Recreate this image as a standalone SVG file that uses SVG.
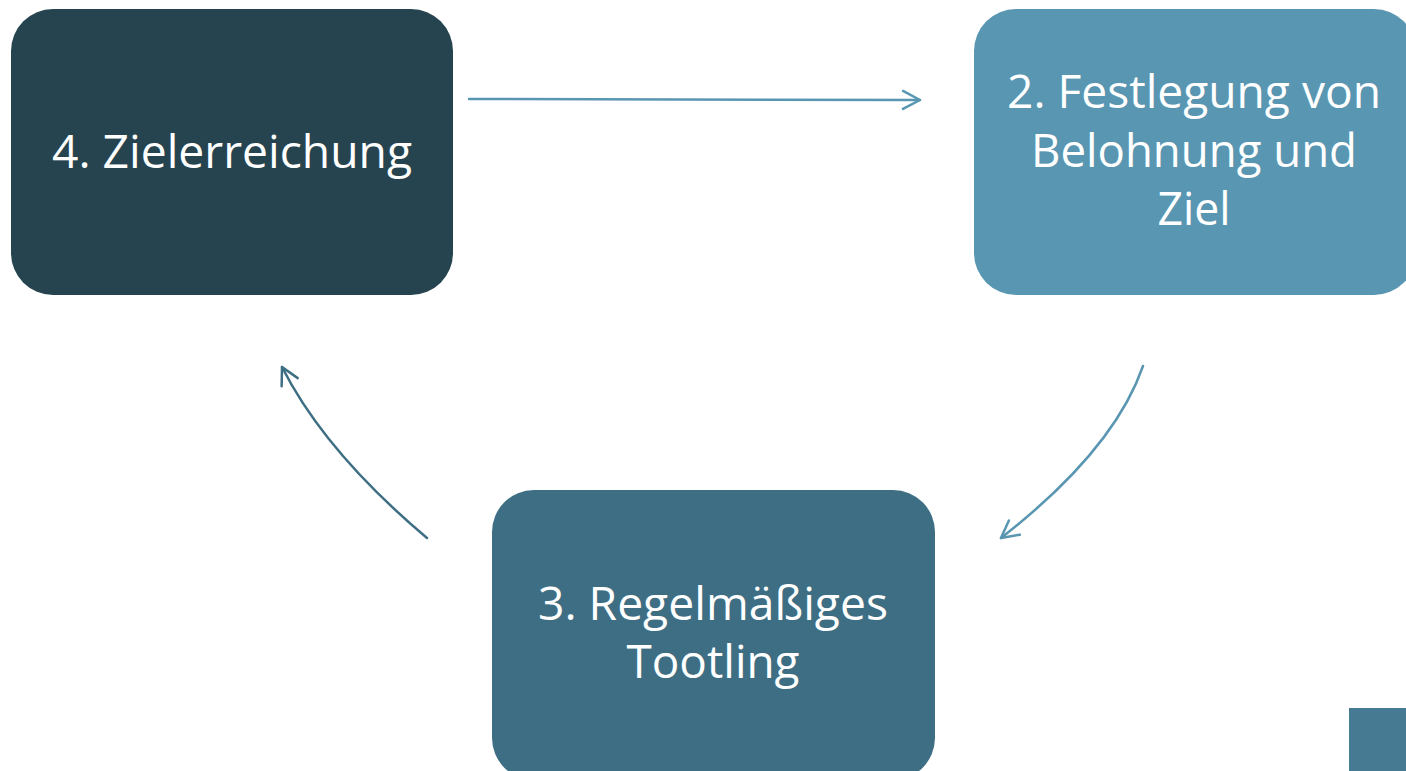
<svg xmlns="http://www.w3.org/2000/svg" width="1406" height="771" viewBox="0 0 1406 771">
<style>
.lbl{font-family:"Open Sans","Noto Sans","Liberation Sans",sans-serif;font-size:45px;fill:#ffffff;text-anchor:middle}
.conn{fill:none;stroke-width:2.5;stroke-linecap:round}
</style>
<defs>
<marker id="ahL" viewBox="-22 -12 26 24" markerWidth="26" markerHeight="24" refX="0" refY="0" markerUnits="userSpaceOnUse" orient="auto" overflow="visible">
<path d="M-17,-9 L0,0 L-17,9" fill="none" stroke="#5896B2" stroke-width="2.5" stroke-linecap="round" stroke-linejoin="round"/>
</marker>
<marker id="ahD" viewBox="-22 -12 26 24" markerWidth="26" markerHeight="24" refX="0" refY="0" markerUnits="userSpaceOnUse" orient="auto" overflow="visible">
<path d="M-17,-9 L0,0 L-17,9" fill="none" stroke="#3E6E84" stroke-width="2.5" stroke-linecap="round" stroke-linejoin="round"/>
</marker>
</defs>
<rect width="1406" height="771" fill="#ffffff"/>
<g id="connectors">
<path class="conn" d="M469,99 L920,100" stroke="#5896B2" marker-end="url(#ahL)"/>
<path class="conn" d="M1143,366 Q1114,450 1001,538" stroke="#5896B2" marker-end="url(#ahL)"/>
<path class="conn" d="M427,538 Q325,452 282,367" stroke="#3E6E84" marker-end="url(#ahD)"/>
</g>
<g id="node4">
<rect x="11" y="9" width="442" height="286" rx="42" fill="#26444F"/>
<text class="lbl" x="232" y="168" textLength="360" lengthAdjust="spacingAndGlyphs">4. Zielerreichung</text>
</g>
<g id="node2">
<rect x="974" y="9" width="442" height="286" rx="42" fill="#5996B2"/>
<text class="lbl" x="1194" y="108" textLength="374" lengthAdjust="spacingAndGlyphs">2. Festlegung von</text>
<text class="lbl" x="1194" y="167" textLength="326" lengthAdjust="spacingAndGlyphs">Belohnung und</text>
<text class="lbl" x="1194" y="225" textLength="73" lengthAdjust="spacingAndGlyphs">Ziel</text>
</g>
<g id="node3">
<rect x="492" y="490" width="443" height="290" rx="42" fill="#3E6E84"/>
<text class="lbl" x="713" y="620" textLength="350" lengthAdjust="spacingAndGlyphs">3. Regelmäßiges</text>
<text class="lbl" x="713" y="678" textLength="173" lengthAdjust="spacingAndGlyphs">Tootling</text>
</g>
<g id="corner-square">
<rect x="1349" y="708" width="57" height="63" fill="#467A92"/>
</g>
</svg>
